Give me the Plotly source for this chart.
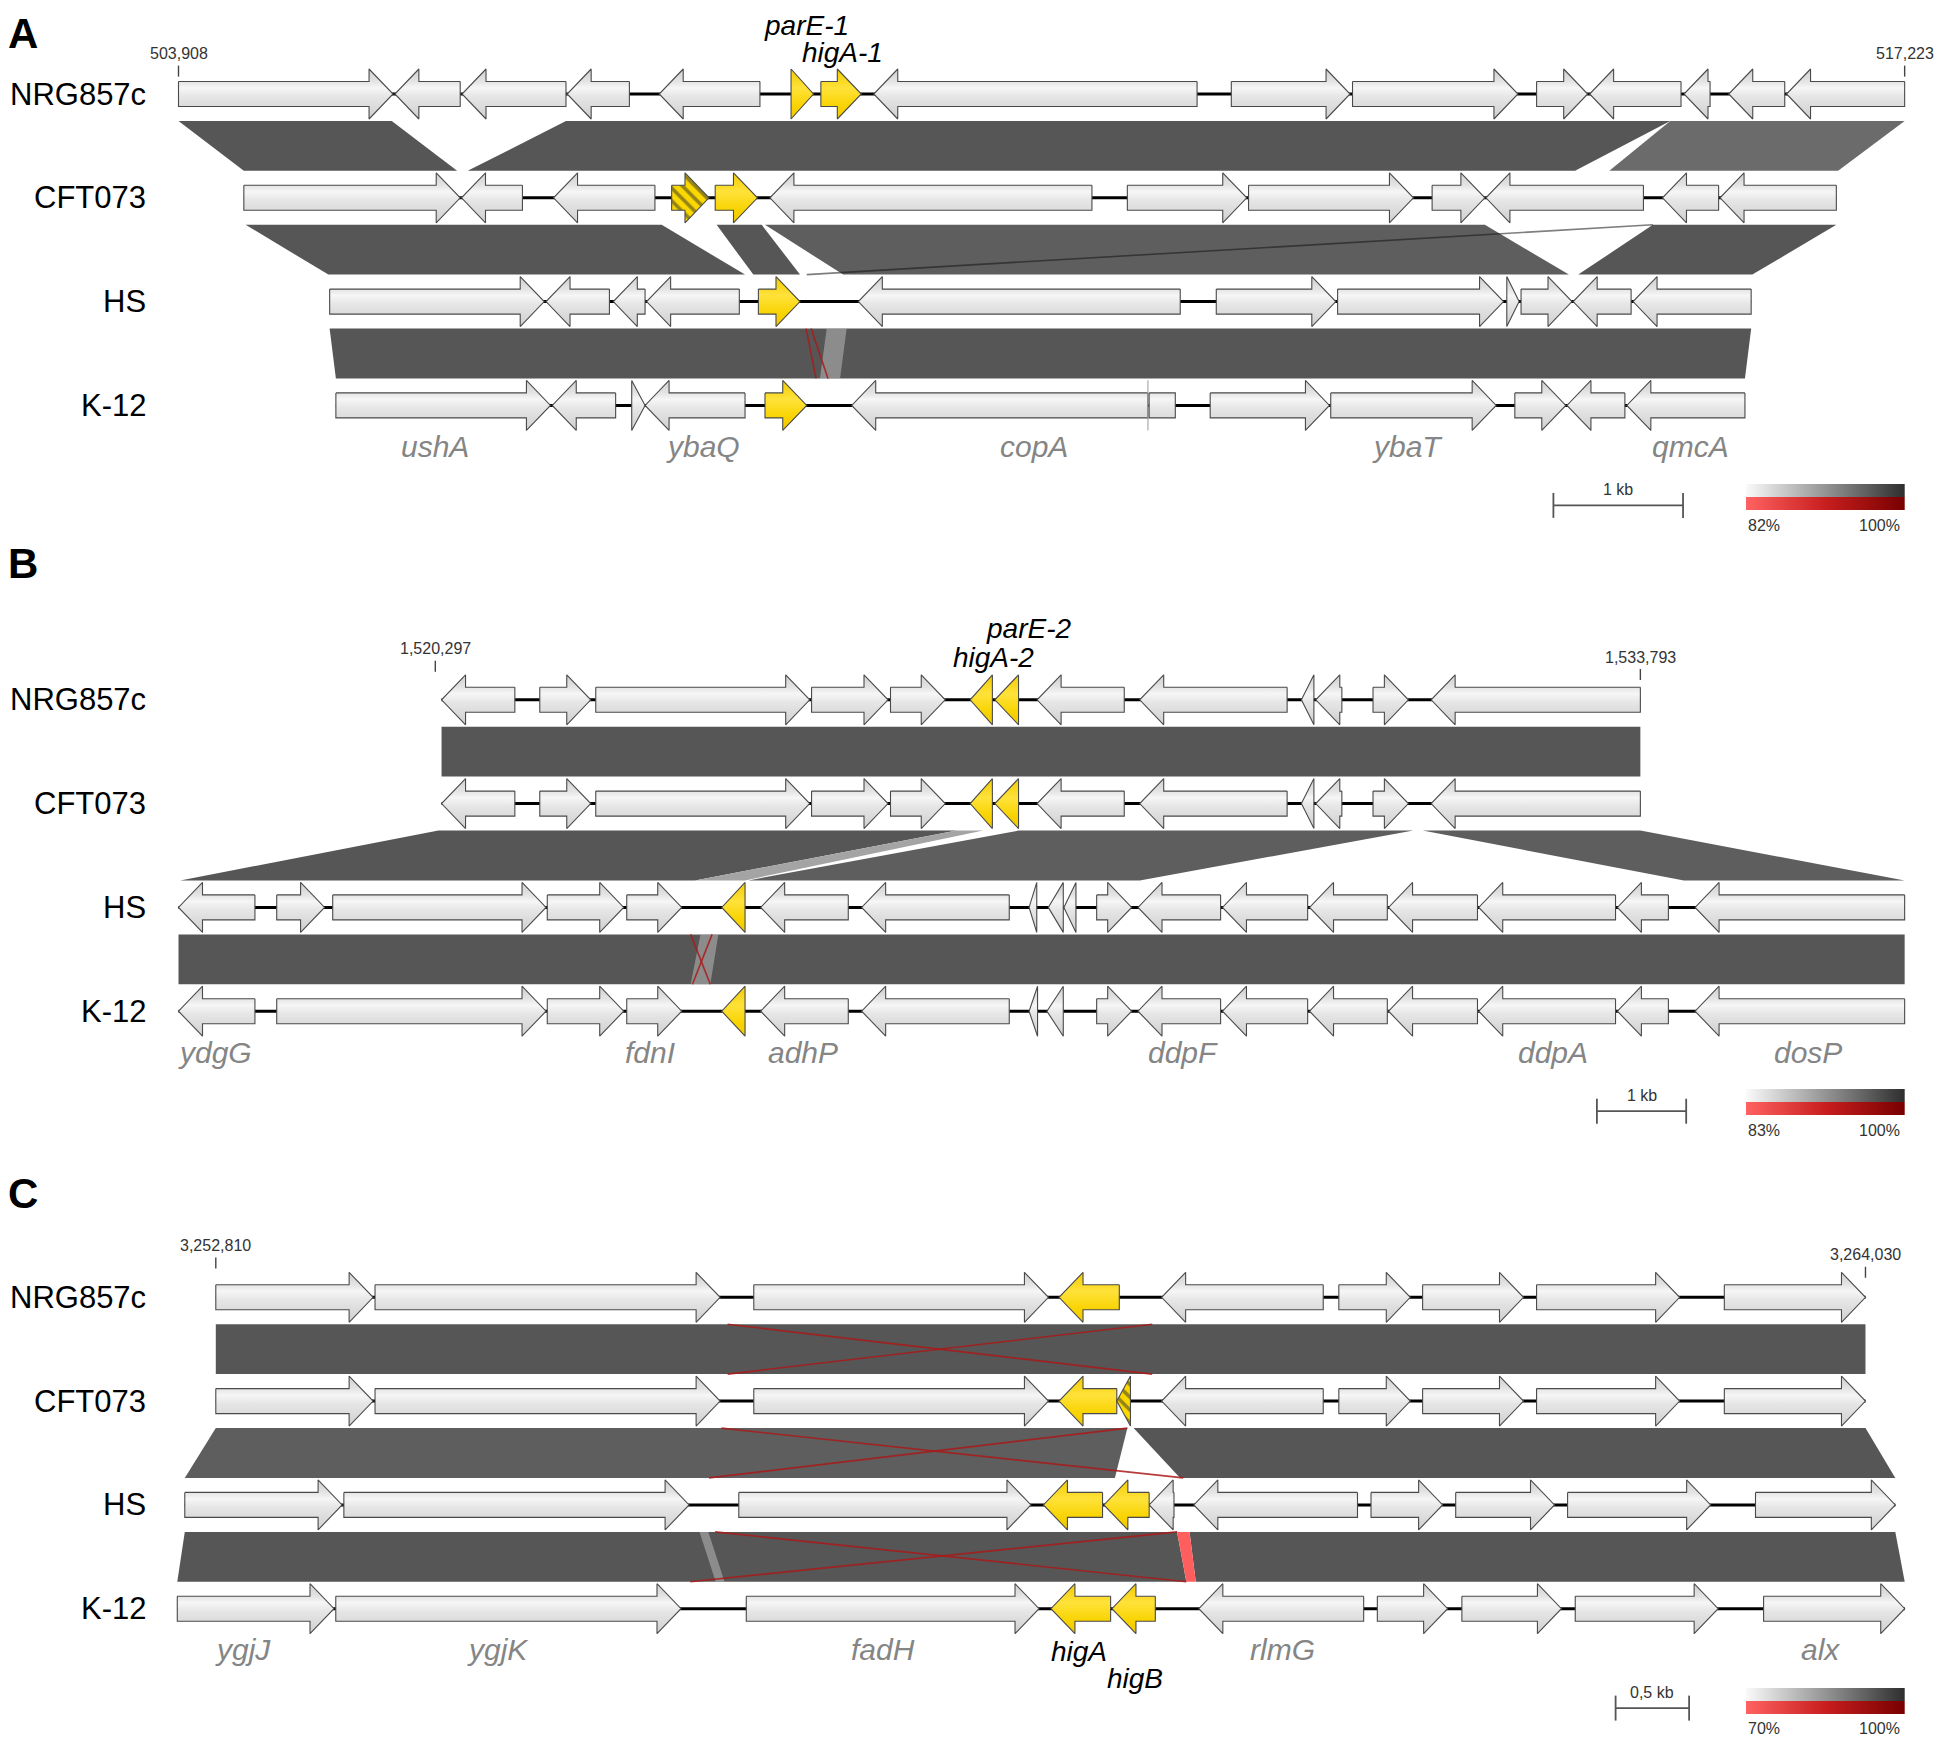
import plotly.graph_objects as go

# genes: (start_kb, end_kb, strand, kind)  kb counted from the left tick of each panel
# kind: g = grey gene, y = yellow TA gene, h = hatched (truncated) TA gene
A_NRG857C = [(0.000, 1.655, 1, "g"), (1.669, 2.173, -1, "g"), (2.187, 2.989, -1, "g"), (2.998, 3.478, -1, "g"),
             (3.708, 4.485, -1, "g"), (4.725, 4.898, 1, "y"), (4.955, 5.267, 1, "y"), (5.363, 7.857, -1, "g"),
             (8.121, 9.037, 1, "g"), (9.056, 10.332, 1, "g"), (10.476, 10.870, 1, "g"), (10.885, 11.590, -1, "g"),
             (11.613, 11.814, -1, "g"), (11.958, 12.390, -1, "g"), (12.404, 13.315, -1, "g")]
A_CFT073 = [(0.504, 2.173, 1, "g"), (2.183, 2.653, -1, "g"), (2.893, 3.675, -1, "g"), (3.804, 4.092, 1, "h"),
            (4.140, 4.466, 1, "y"), (4.562, 7.046, -1, "g"), (7.319, 8.240, 1, "g"), (8.254, 9.526, 1, "g"),
            (9.670, 10.077, 1, "g"), (10.085, 11.300, -1, "g"), (11.447, 11.880, -1, "g"), (11.891, 12.788, -1, "g")]
A_HS = [(1.166, 2.821, 1, "g"), (2.835, 3.324, -1, "g"), (3.354, 3.599, -1, "g"), (3.611, 4.326, -1, "g"),
        (4.473, 4.794, 1, "y"), (5.244, 7.727, -1, "g"), (8.005, 8.927, 1, "g"), (8.941, 10.221, 1, "g"),
        (10.246, 10.341, 1, "g"), (10.356, 10.749, 1, "g"), (10.758, 11.205, -1, "g"), (11.220, 12.131, -1, "g")]
A_K12 = [(1.214, 2.869, 1, "g"), (2.883, 3.372, -1, "g"), (3.496, 3.599, 1, "g"), (3.599, 4.370, -1, "g"),
         (4.524, 4.846, 1, "y"), (5.193, 7.478, -1, "g"), (7.487, 7.689, 0, "g"), (7.958, 8.878, 1, "g"),
         (8.888, 10.164, 1, "g"), (10.308, 10.701, 1, "g"), (10.710, 11.157, -1, "g"), (11.172, 12.083, -1, "g")]

B_NRG857C = [(0.070, 0.891, -1, "g"), (1.170, 1.741, 1, "g"), (1.797, 4.193, 1, "g"), (4.214, 5.070, 1, "g"),
             (5.098, 5.711, 1, "g"), (5.990, 6.239, -1, "y"), (6.267, 6.532, -1, "y"), (6.740, 7.716, -1, "g"),
             (7.889, 9.540, -1, "g"), (9.700, 9.840, -1, "g"), (9.861, 10.153, -1, "g"), (10.502, 10.898, 1, "g"),
             (11.153, 13.496, -1, "g")]
B_CFT073 = [(0.070, 0.891, -1, "g"), (1.170, 1.741, 1, "g"), (1.797, 4.193, 1, "g"), (4.214, 5.070, 1, "g"),
            (5.098, 5.711, 1, "g"), (5.990, 6.239, -1, "y"), (6.267, 6.532, -1, "y"), (6.740, 7.716, -1, "g"),
            (7.889, 9.540, -1, "g"), (9.700, 9.840, -1, "g"), (9.861, 10.153, -1, "g"), (10.502, 10.898, 1, "g"),
            (11.153, 13.496, -1, "g")]
B_HS = [(-2.876, -2.020, -1, "g"), (-1.776, -1.240, 1, "g"), (-1.149, 1.240, 1, "g"), (1.254, 2.110, 1, "g"),
        (2.144, 2.760, 1, "g"), (3.208, 3.469, -1, "y"), (3.644, 4.625, -1, "g"), (4.775, 6.428, -1, "g"),
        (6.650, 6.736, -1, "g"), (6.865, 7.033, -1, "g"), (7.040, 7.175, -1, "g"), (7.407, 7.799, 1, "g"),
        (7.870, 8.795, -1, "g"), (8.816, 9.770, -1, "g"), (9.791, 10.662, -1, "g"), (10.676, 11.672, -1, "g"),
        (11.686, 13.218, -1, "g"), (13.239, 13.810, -1, "g"), (14.109, 16.456, -1, "g")]
B_K12 = [(-2.876, -2.020, -1, "g"), (-1.776, 1.240, 1, "g"), (1.254, 2.110, 1, "g"), (2.144, 2.760, 1, "g"),
         (3.208, 3.469, -1, "y"), (3.644, 4.625, -1, "g"), (4.775, 6.428, -1, "g"), (6.650, 6.745, -1, "g"),
         (6.850, 7.033, -1, "g"), (7.407, 7.799, 1, "g"), (7.870, 8.795, -1, "g"), (8.816, 9.770, -1, "g"),
         (9.791, 10.662, -1, "g"), (10.676, 11.672, -1, "g"), (11.686, 13.218, -1, "g"), (13.239, 13.810, -1, "g"),
         (14.109, 16.456, -1, "g")]

C_NRG857C = [(0.000, 1.070, 1, "g"), (1.083, 3.430, 1, "g"), (3.659, 5.663, 1, "g"), (5.735, 6.145, -1, "y"),
             (6.433, 7.532, -1, "g"), (7.638, 8.124, 1, "g"), (8.208, 8.894, 1, "g"), (8.983, 9.956, 1, "g"),
             (10.260, 11.220, 1, "g")]
C_CFT073 = [(0.000, 1.070, 1, "g"), (1.083, 3.430, 1, "g"), (3.659, 5.663, 1, "g"), (5.735, 6.128, -1, "y"),
            (6.128, 6.221, -1, "h"), (6.433, 7.532, -1, "g"), (7.638, 8.124, 1, "g"), (8.208, 8.894, 1, "g"),
            (8.983, 9.956, 1, "g"), (10.260, 11.220, 1, "g")]
C_HS = [(-0.211, 0.859, 1, "g"), (0.871, 3.219, 1, "g"), (3.557, 5.544, 1, "g"), (5.629, 6.031, -1, "y"),
        (6.040, 6.348, -1, "y"), (6.348, 6.517, -1, "g"), (6.652, 7.765, -1, "g"), (7.857, 8.344, 1, "g"),
        (8.433, 9.105, 1, "g"), (9.194, 10.167, 1, "g"), (10.472, 11.423, 1, "g")]
C_K12 = [(-0.262, 0.804, 1, "g"), (0.816, 3.164, 1, "g"), (3.608, 5.599, 1, "g"), (5.680, 6.086, -1, "y"),
         (6.095, 6.390, -1, "y"), (6.686, 7.807, -1, "g"), (7.900, 8.378, 1, "g"), (8.475, 9.152, 1, "g"),
         (9.246, 10.218, 1, "g"), (10.527, 11.487, 1, "g")]

# blast hits between track i and i+1: (pair, top_left, top_right, bottom_left, bottom_right, shade)
A_HITS = [(0, 0.000, 1.645, 0.504, 2.149, "d"), (0, 2.989, 11.507, 2.231, 10.773, "d"),
          (0, 11.507, 13.315, 11.037, 12.802, "n"), (1, 0.518, 3.727, 1.156, 4.370, "d"),
          (1, 4.151, 4.499, 4.434, 4.794, "d"), (1, 4.524, 10.077, 5.127, 10.725, "m"),
          (1, 11.373, 12.788, 10.797, 12.140, "d"), (2, 1.166, 12.131, 1.214, 12.083, "d"),
          (2, 5.000, 5.154, 4.948, 5.103, "g")]
B_HITS = [(0, 0.070, 13.496, 0.070, 13.496, "d"), (1, 0.035, 5.839, -2.856, 2.908, "d"),
          (1, 5.839, 6.137, 2.908, 3.469, "l"), (1, 6.530, 10.954, 3.505, 7.890, "m"),
          (1, 11.058, 13.496, 13.984, 16.456, "m"), (2, -2.876, 16.456, -2.876, 16.456, "d"),
          (2, 2.970, 3.170, 2.860, 3.080, "g")]
C_HITS = [(0, 0.000, 11.220, 0.000, 11.220, "d"), (1, 0.000, 6.200, -0.211, 6.115, "m"),
          (1, 6.242, 11.220, 6.559, 11.423, "d"), (2, -0.211, 6.538, -0.262, 6.601, "d"),
          (2, 6.623, 11.423, 6.665, 11.487, "d"), (2, 6.538, 6.623, 6.601, 6.665, "p"),
          (2, 3.290, 3.350, 3.400, 3.460, "g")]

# thin hits drawn as lines: (pair, top_x, bottom_x, colour)
A_THIN = [(1, 11.373, 4.846, "k"), (2, 4.841, 4.918, "r"), (2, 4.880, 5.010, "r")]
B_THIN = [(2, 2.860, 3.080, "r"), (2, 3.100, 2.880, "r")]
C_THIN = [(0, 3.481, 6.369, "r"), (0, 6.369, 3.481, "r"), (1, 3.439, 6.580, "r"), (1, 6.200, 3.354, "r"),
          (2, 3.396, 6.601, "r"), (2, 6.538, 3.227, "r")]

A_GENE_LABELS = [("ushA", 1.981), ("ybaQ", 4.044), ("copA", 6.600), ("ybaT", 9.478), ("qmcA", 11.661)]
B_GENE_LABELS = [("ydgG", -2.472), ("fdnI", 2.406), ("adhP", 4.121), ("ddpF", 8.377), ("ddpA", 12.521), ("dosP", 15.377)]
C_GENE_LABELS = [("ygjJ", 0.182), ("ygjK", 1.916), ("fadH", 4.538), ("rlmG", 7.257), ("alx", 10.916)]

A_TA_LABELS = [("parE-1", 4.845), ("higA-1", 5.123)]
B_TA_LABELS = [("parE-2", 6.638), ("higA-2", 6.246)]
C_TA_LABELS = [("higA", 5.870), ("higB", 6.254)]

STRAINS = ["NRG857c", "CFT073", "HS", "K-12"]
REGIONS = [(503908, 517223), (1520297, 1533793), (3252810, 3264030)]
SCALE_KB = [1.0, 1.0, 0.5]
SCALE_TEXT = ["1 kb", "1 kb", "0,5 kb"]
ID_MIN = [82, 83, 70]
A_K12_MARK = 7.478

# layout / style
W, H = 1950, 1748
PAD = 8   # default body margin of the html page
FONT = "Liberation Sans, Arial, sans-serif"
TRACK_GAP = 103.8
BAND_INSET = 27
BODY_H, HEAD_H, HEAD_PX = 12.5, 25, 24
LEG_X0, LEG_X1 = 1746, 1904.7
SHADES = {"d": "#565656", "m": "#5e5e5e", "n": "#6b6b6b", "l": "#a4a4a4",
          "g": "rgba(185,185,185,0.55)", "p": "#ff5e5e"}
THIN_COL = {"r": "rgba(170,25,25,0.85)", "k": "rgba(20,20,20,0.55)"}
YELLOW = "#fbd800"
GREY_GRAD = [[0, "#cfcfcf"], [0.25, "#e4e4e4"], [0.38, "#f6f6f6"], [0.55, "#e6e6e6"], [0.75, "#dcdcdc"], [1, "#cfcfcf"]]
YEL_GRAD = [[0, "#f2cb00"], [0.38, "#ffe23a"], [0.75, "#f8d300"], [1, "#f0c800"]]

PANELS = [
    dict(name="A", axis="x2", x0=178.5, pxkb=129.64, y0=94.0, letter_y=33.0, pos_y=(53.6, 53.6),
         ta_y=(25.5, 52.5), bar_px=1553.4, bar_y=505.4, leg_y=484.0,
         tracks=[A_NRG857C, A_CFT073, A_HS, A_K12], hits=A_HITS, thin=A_THIN,
         labels=A_GENE_LABELS, ta=A_TA_LABELS),
    dict(name="B", axis="x3", x0=435.3, pxkb=89.29, y0=699.8, letter_y=563.0, pos_y=(648.8, 657.0),
         ta_y=(628.0, 657.5), bar_px=1596.9, bar_y=1111.2, leg_y=1089.0,
         tracks=[B_NRG857C, B_CFT073, B_HS, B_K12], hits=B_HITS, thin=B_THIN,
         labels=B_GENE_LABELS, ta=B_TA_LABELS),
    dict(name="C", axis="x4", x0=215.8, pxkb=147.03, y0=1297.3, letter_y=1193.0, pos_y=(1245.6, 1254.8),
         ta_y=(1651.0, 1678.0), bar_px=1615.6, bar_y=1708.1, leg_y=1687.9,
         tracks=[C_NRG857C, C_CFT073, C_HS, C_K12], hits=C_HITS, thin=C_THIN,
         labels=C_GENE_LABELS, ta=C_TA_LABELS),
]


def gene_shape(s, e, strand, yc, head):
    if strand == 0:
        return [s, e, e, s, s], [yc - BODY_H, yc - BODY_H, yc + BODY_H, yc + BODY_H, yc - BODY_H]
    if strand == 1:
        if e - s <= head:
            return [s, e, s, s], [yc - HEAD_H, yc, yc + HEAD_H, yc - HEAD_H]
        b = e - head
        return ([s, b, b, e, b, b, s, s],
                [yc - BODY_H, yc - BODY_H, yc - HEAD_H, yc, yc + HEAD_H, yc + BODY_H, yc + BODY_H, yc - BODY_H])
    if e - s <= head:
        return [e, s, e, e], [yc - HEAD_H, yc, yc + HEAD_H, yc - HEAD_H]
    b = s + head
    return ([e, b, b, s, b, b, e, e],
            [yc - BODY_H, yc - BODY_H, yc - HEAD_H, yc, yc + HEAD_H, yc + BODY_H, yc + BODY_H, yc - BODY_H])


fig = go.Figure()
ann = []


def poly(xs, ys, axis, **kw):
    fig.add_trace(go.Scatter(x=xs, y=ys, xaxis=axis, yaxis="y", mode="lines", fill="toself",
                             hoverinfo="skip", **kw))


for k, p in enumerate(PANELS):
    ax = p["axis"]
    head = HEAD_PX / p["pxkb"]
    ys = [p["y0"] + i * TRACK_GAP for i in range(4)]

    # homology bands
    for pair, tl, tr, bl, br, shade in p["hits"]:
        yt, yb = ys[pair] + BAND_INSET, ys[pair + 1] - BAND_INSET
        poly([tl, tr, br, bl, tl], [yt, yt, yb, yb, yt], ax, fillcolor=SHADES[shade], line=dict(width=0))
    for pair, tx, bx, c in p["thin"]:
        yt, yb = ys[pair] + BAND_INSET, ys[pair + 1] - BAND_INSET
        fig.add_trace(go.Scatter(x=[tx, bx], y=[yt, yb], xaxis=ax, yaxis="y", mode="lines",
                                 line=dict(color=THIN_COL[c], width=1.6), hoverinfo="skip"))

    # backbones and genes
    for i, genes in enumerate(p["tracks"]):
        yc = ys[i]
        x_lo = min(g[0] for g in genes)
        x_hi = max(g[1] for g in genes)
        fig.add_trace(go.Scatter(x=[x_lo, x_hi], y=[yc, yc], xaxis=ax, yaxis="y", mode="lines",
                                 line=dict(color="black", width=3), hoverinfo="skip"))
        for kind in "gyh":
            gx, gy = [], []
            for s, e, strand, kd in genes:
                if kd != kind:
                    continue
                xs_, ys_ = gene_shape(s, e, strand, yc, head)
                gx += xs_ + [None]
                gy += ys_ + [None]
            if not gx:
                continue
            outline = dict(color="#4a4a4a", width=1.1)
            if kind == "h":
                poly(gx, gy, ax, fillcolor=YELLOW, line=outline,
                     fillpattern=dict(shape="\\", bgcolor=YELLOW, fgcolor="#2e2e2e", size=9, solidity=0.4))
            else:
                grad = GREY_GRAD if kind == "g" else YEL_GRAD
                poly(gx, gy, ax, line=outline,
                     fillgradient=dict(type="vertical", colorscale=grad, start=yc - HEAD_H, stop=yc + HEAD_H))

    if p["name"] == "A":
        fig.add_trace(go.Scatter(x=[A_K12_MARK, A_K12_MARK], y=[ys[3] - HEAD_H, ys[3] + HEAD_H], xaxis=ax,
                                 yaxis="y", mode="lines", line=dict(color="#999999", width=1), hoverinfo="skip"))

    # region ticks + coordinates
    start, end = REGIONS[k]
    span = (end - start) / 1000.0
    for xk, val, ly in [(0.0, start, p["pos_y"][0]), (span, end, p["pos_y"][1])]:
        fig.add_trace(go.Scatter(x=[xk, xk], y=[ly + 12, ly + 23], xaxis=ax, yaxis="y", mode="lines",
                                 line=dict(color="#444444", width=1.4), hoverinfo="skip"))
        ann.append(dict(x=xk, y=ly, xref=ax, yref="y", text=f"{val:,}", showarrow=False,
                        font=dict(family=FONT, size=16, color="#333333")))

    # strain names
    for i, nm in enumerate(STRAINS):
        ann.append(dict(x=148, y=ys[i], xref="x", yref="y", text=nm, showarrow=False, xanchor="right",
                        font=dict(family=FONT, size=31, color="black")))

    # gene names
    for nm, xk in p["labels"]:
        ann.append(dict(x=xk, y=ys[3] + 41, xref=ax, yref="y", text=f"<i>{nm}</i>", showarrow=False,
                        font=dict(family=FONT, size=30, color="#858585")))
    for (nm, xk), ly in zip(p["ta"], p["ta_y"]):
        ann.append(dict(x=xk, y=ly, xref=ax, yref="y", text=f"<i>{nm}</i>", showarrow=False,
                        font=dict(family=FONT, size=28, color="black")))

    # panel letter
    ann.append(dict(x=23, y=p["letter_y"], xref="x", yref="y", text="<b>" + p["name"] + "</b>",
                    showarrow=False, font=dict(family=FONT, size=42, color="black")))

    # scale bar
    s0 = (p["bar_px"] - p["x0"]) / p["pxkb"]
    s1 = s0 + SCALE_KB[k]
    by = p["bar_y"]
    fig.add_trace(go.Scatter(x=[s0, s1, None, s0, s0, None, s1, s1],
                             y=[by, by, None, by - 12.5, by + 12.5, None, by - 12.5, by + 12.5],
                             xaxis=ax, yaxis="y", mode="lines", line=dict(color="#555555", width=1.8),
                             hoverinfo="skip"))
    ann.append(dict(x=(s0 + s1) / 2, y=by - 16, xref=ax, yref="y", text=SCALE_TEXT[k], showarrow=False,
                    font=dict(family=FONT, size=16, color="#333333")))

    # identity legend
    ly = p["leg_y"]
    poly([LEG_X0, LEG_X1, LEG_X1, LEG_X0, LEG_X0], [ly, ly, ly + 13, ly + 13, ly], "x", line=dict(width=0),
         fillgradient=dict(type="horizontal", colorscale=[[0, "#fafafa"], [1, "#2e2e2e"]]))
    poly([LEG_X0, LEG_X1, LEG_X1, LEG_X0, LEG_X0], [ly + 13, ly + 13, ly + 26, ly + 26, ly + 13], "x",
         line=dict(width=0),
         fillgradient=dict(type="horizontal", colorscale=[[0, "#ff6262"], [0.5, "#c81e1e"], [1, "#780000"]]))
    ann.append(dict(x=1763.6, y=ly + 41, xref="x", yref="y", text=f"{ID_MIN[k]}%", showarrow=False,
                    font=dict(family=FONT, size=16, color="#333333")))
    ann.append(dict(x=1879.8, y=ly + 41, xref="x", yref="y", text="100%", showarrow=False,
                    font=dict(family=FONT, size=16, color="#333333")))

# the page adds an 8 px body margin, so the plot area is shrunk and shifted to compensate
layout = dict(
    width=W - 2 * PAD, height=H - 2 * PAD, margin=dict(l=0, r=0, t=0, b=0), showlegend=False,
    paper_bgcolor="white", plot_bgcolor="white", annotations=ann,
    xaxis=dict(range=[PAD, W - PAD], visible=False, fixedrange=True),
    yaxis=dict(range=[H - PAD, PAD], visible=False, fixedrange=True),
)
for i, p in enumerate(PANELS):
    lo = (PAD - p["x0"]) / p["pxkb"]
    hi = (W - PAD - p["x0"]) / p["pxkb"]
    layout["xaxis%d" % (i + 2)] = dict(range=[lo, hi], visible=False, overlaying="x", anchor="y",
                                        fixedrange=True)
fig.update_layout(**layout)

fig.write_html("out.html")
